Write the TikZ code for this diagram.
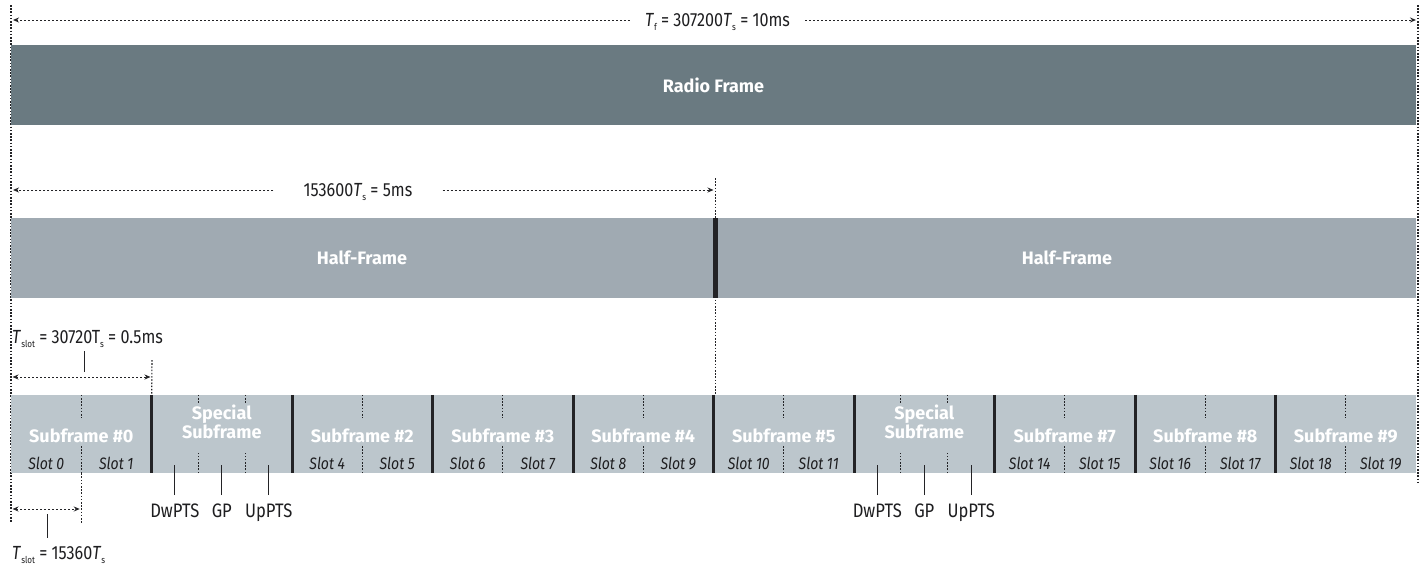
\documentclass[tikz,border=0pt]{standalone}
\usepackage{fontspec}
\setmainfont{Fira Sans}
\newfontfamily\narrowfont[FakeStretch=0.85]{Fira Sans}
\usetikzlibrary{arrows.meta}
\definecolor{RFdark}{RGB}{106,122,129}
\definecolor{RFmid}{RGB}{160,170,178}
\definecolor{RFlight}{RGB}{188,198,204}
\definecolor{RFline}{RGB}{35,35,38}
\definecolor{RFtext}{RGB}{30,30,32}
\newcommand\lowsub[1]{\raisebox{-4pt}{\fontsize{9.5}{9.5}\selectfont #1}}
\tikzset{
  bar/.style={fill=#1,draw=none,inner sep=0pt,text=white,
              font=\fontsize{18}{20}\selectfont\bfseries,minimum height=80pt},
  sfbox/.style={fill=RFlight,draw=none,inner sep=0pt,
                minimum width=140.5pt,minimum height=78pt},
  sftitle/.style={text=white,inner sep=0pt,align=center,
                  font=\fontsize{18}{16.5}\selectfont\bfseries},
  slottxt/.style={text=RFtext,inner sep=0pt,
                  font=\narrowfont\fontsize{16.5}{18}\selectfont\itshape},
  dimtxt/.style={text=RFtext,anchor=base,inner sep=0pt,
                 font=\narrowfont\fontsize{19}{21}\selectfont},
  lbl/.style={text=RFtext,anchor=base,inner sep=0pt,
              font=\narrowfont\fontsize{19.5}{21}\selectfont},
  guide/.style={draw=RFline,line width=1.1pt,dash pattern=on 1.6pt off 1.6pt},
  dv/.style={draw=RFline,line width=1pt,dash pattern=on 1.6pt off 1.6pt},
  dim/.style={draw=RFline,line width=1pt,dash pattern=on 2pt off 2pt,
              -{Stealth[length=6pt,width=5pt]},shorten >=2pt},
  dimb/.style={draw=RFline,line width=1pt,dash pattern=on 2pt off 2pt,
               {Stealth[length=6pt,width=5pt]}-{Stealth[length=6pt,width=5pt]},
               shorten >=1.5pt,shorten <=1.5pt},
  sep/.style={draw=RFline,line width=3pt},
  tick/.style={draw=RFline,line width=1pt}
}
\begin{document}
\begin{tikzpicture}[x=1pt,y=1pt]
  \useasboundingbox (0,0) rectangle (1421,-571);

  % guide lines
  \coordinate (gLt) at (11,-5);
  \coordinate (gLb) at (11,-523);
  \coordinate (gRt) at (1418,-5);
  \coordinate (gRb) at (1418,-483);
  \coordinate (gMt) at (715.5,-178);
  \coordinate (gMb) at (715.5,-395);
  \draw[guide] (gLt) -- (gLb);
  \draw[guide] (gRt) -- (gRb);
  \draw[guide] (gMt) -- (gMb);

  % radio frame
  \node[bar=RFdark,minimum width=1405pt] (radio) at (713.5,-85) {Radio Frame};
  \node[dimtxt,inner xsep=15pt] (tf) at (717.5,-26)
    {\textit{T}\lowsub{f} = 307200\textit{T}\lowsub{s} = 10ms};
  \coordinate (tfL) at (11,-20);
  \coordinate (tfR) at (1418,-20);
  \draw[dim] (tfL -| tf.west) -- (tfL);
  \draw[dim] (tfR -| tf.east) -- (tfR);

  % half frames
  \node[bar=RFmid,minimum width=702pt] (half1) at (362,-258) {Half-Frame};
  \node[bar=RFmid,minimum width=698pt] (half2) at (1067,-258) {Half-Frame};
  \node[fill=RFline,inner sep=0pt,minimum width=5pt,minimum height=80pt] (hsep) at (715.5,-258) {};
  \node[dimtxt,inner xsep=30pt] (hf) at (358,-196) {153600\textit{T}\lowsub{s} = 5ms};
  \coordinate (hfL) at (11,-190);
  \coordinate (hfR) at (715.5,-190);
  \draw[dim] (hfL -| hf.west) -- (hfL);
  \draw[dim] (hfR -| hf.east) -- (hfR);

  % subframes
  \foreach \k in {0,...,9}
    \node[sfbox] (sf\k) at ({81.25+140.5*\k},-434) {};
  \foreach \k in {0,2,3,4,5,7,8,9}{
    \pgfmathtruncatemacro\sa{2*\k}
    \pgfmathtruncatemacro\sb{2*\k+1}
    \node[sftitle] (sft\k) at ([yshift=-2pt]sf\k.center) {Subframe \#\k};
    \node[slottxt] (sla\k) at ([xshift=-35pt,yshift=-29pt]sf\k.center) {Slot \sa};
    \node[slottxt] (slb\k) at ([xshift=35pt,yshift=-29pt]sf\k.center) {Slot \sb};
    \draw[dv] (sf\k.north) -- ++(0,-23);
    \draw[dv] (sf\k.south) -- ++(0,28);
  }
  \foreach \k in {1,6}{
    \node[sftitle] (sft\k) at ([yshift=12pt]sf\k.center) {Special\\Subframe};
    \foreach \d in {47,94}{
      \draw[dv] ([xshift=\d pt]sf\k.north west) -- ++(0,-8);
      \draw[dv] ([xshift=\d pt]sf\k.south west) -- ++(0,20);
    }
    \node[lbl] (dw\k) at ([xshift=23.5pt,yshift=-44pt]sf\k.south west) {DwPTS};
    \node[lbl] (gp\k) at ([xshift=70.5pt,yshift=-44pt]sf\k.south west) {GP};
    \node[lbl] (up\k) at ([xshift=117.5pt,yshift=-44pt]sf\k.south west) {UpPTS};
    \foreach \n in {dw,gp,up}
      \draw[tick] ([yshift=22pt]\n\k.base) -- ++(0,30);
  }
  \foreach \k in {0,...,8}
    \draw[sep] (sf\k.north east) -- (sf\k.south east);

  % slot length, 0.5 ms
  \node[dimtxt,anchor=base west] (ts) at (12,-343)
    {\textit{T}\lowsub{slot} = 30720T\lowsub{s} = 0.5ms};
  \coordinate (tsL) at (11,-377);
  \coordinate (tsR) at (152,-377);
  \coordinate (tsM) at (84,-377);
  \coordinate (gSt) at (152,-360);
  \draw[guide] (gSt) -- (sf0.north east);
  \draw[dimb] (tsL) -- (tsR);
  \draw[tick] ([yshift=5pt]tsM) -- ++(0,21);

  % slot length, bottom
  \coordinate (bsL) at (11,-509);
  \coordinate (bsR) at (81.25,-509);
  \coordinate (bsM) at (47,-509);
  \draw[guide] (sf0.south) -- ++(0,-50);
  \draw[dimb] (bsL) -- (bsR);
  \draw[tick] ([yshift=-5pt]bsM) -- ++(0,-24);
  \node[dimtxt,anchor=base west] (tb) at (12,-559)
    {\textit{T}\lowsub{slot} = 15360\textit{T}\lowsub{s}};
\end{tikzpicture}
\end{document}
